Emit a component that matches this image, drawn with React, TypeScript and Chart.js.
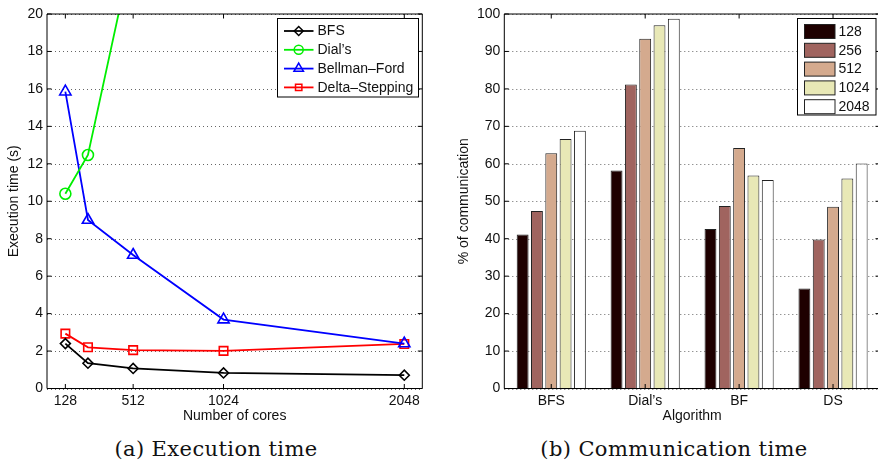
import React, { useEffect, useRef } from "react";
import { Chart, registerables } from "chart.js";

Chart.register(...registerables);

// ---------- Data: (a) Execution time ----------
const cores = [128, 256, 512, 1024, 2048];
const coreTicks = [128, 512, 1024, 2048];
const bfsTime = [2.4, 1.35, 1.07, 0.83, 0.71];
const dialsTime = [10.4, 12.47, 23.6, null, null];
const bellmanTime = [15.85, 9.0, 7.13, 3.68, 2.4];
const deltaTime = [2.93, 2.2, 2.05, 2.01, 2.38];
const lineNames = ["BFS", "Dial\u2019s", "Bellman\u2013Ford", "Delta\u2013Stepping"];

// ---------- Data: (b) Communication time ----------
const algorithms = ["BFS", "Dial\u2019s", "BF", "DS"];
const coreCounts = ["128", "256", "512", "1024", "2048"];
const comm128 = [41.1, 58.2, 42.6, 26.7];
const comm256 = [47.4, 81.2, 48.7, 39.8];
const comm512 = [62.8, 93.4, 64.2, 48.5];
const comm1024 = [66.6, 97.0, 56.9, 56.1];
const comm2048 = [68.8, 98.7, 55.7, 60.1];

const FONT = "Liberation Sans, Arial, Helvetica, sans-serif";
const TXT = "#111";

const lineColors = ["#000000", "#00ee00", "#0000ff", "#ff0000"];
const lineMarkers = ["rectRot", "circle", "triangle", "rect"];
const lineRadii = [5, 5.5, 6.5, 6];
const barColors = ["#1e0000", "#a0645f", "#d4aa8e", "#e8e8b6", "#ffffff"];

function dottedGrid(chart: any) {
  const { ctx, chartArea: a, scales } = chart;
  ctx.save();
  ctx.strokeStyle = "rgba(0,0,0,0.6)";
  ctx.lineWidth = 1;
  ctx.setLineDash([1, 3]);
  ctx.beginPath();
  scales.y.ticks.forEach((t: any) => {
    const py = Math.round(scales.y.getPixelForValue(t.value)) + 0.5;
    ctx.moveTo(a.left, py);
    ctx.lineTo(a.right, py);
  });
  ctx.stroke();
  ctx.restore();
}

function frameAndTicks(chart: any, xTicks: number[] | null) {
  const { ctx, chartArea: a, scales } = chart;
  ctx.save();
  ctx.strokeStyle = "#000";
  ctx.lineWidth = 1;
  const tl = 4.5;
  ctx.beginPath();
  const ys = scales.y.ticks.map((t: any) => scales.y.getPixelForValue(t.value));
  ys.forEach((py: number) => {
    ctx.moveTo(a.left, py);
    ctx.lineTo(a.left + tl, py);
    ctx.moveTo(a.right, py);
    ctx.lineTo(a.right - tl, py);
  });
  const xs = xTicks
    ? xTicks.map((v) => scales.x.getPixelForValue(v))
    : scales.x.ticks.map((_t: any, i: number) => scales.x.getPixelForTick(i));
  xs.forEach((px: number) => {
    ctx.moveTo(px, a.top);
    ctx.lineTo(px, a.top + tl);
    ctx.moveTo(px, a.bottom);
    ctx.lineTo(px, a.bottom - tl);
  });
  ctx.stroke();
  ctx.beginPath();
  ctx.rect(a.left, a.top, a.right - a.left, a.bottom - a.top);
  ctx.stroke();
  ctx.restore();
}

function drawMarker(ctx: CanvasRenderingContext2D, kind: string, x: number, y: number, r: number) {
  ctx.beginPath();
  if (kind === "rectRot") {
    ctx.moveTo(x - r, y);
    ctx.lineTo(x, y - r);
    ctx.lineTo(x + r, y);
    ctx.lineTo(x, y + r);
    ctx.closePath();
  } else if (kind === "circle") {
    ctx.arc(x, y, r, 0, Math.PI * 2);
  } else if (kind === "triangle") {
    const s = r;
    ctx.moveTo(x, y - s);
    ctx.lineTo(x + s * 0.866, y + s * 0.5);
    ctx.lineTo(x - s * 0.866, y + s * 0.5);
    ctx.closePath();
  } else {
    const h = r * Math.SQRT1_2;
    ctx.rect(x - h, y - h, 2 * h, 2 * h);
  }
  ctx.stroke();
}

const lineDecor = {
  id: "lineDecor",
  beforeDatasetsDraw(chart: any) {
    dottedGrid(chart);
  },
  afterDraw(chart: any) {
    frameAndTicks(chart, coreTicks);
    const { ctx } = chart;
    ctx.save();
    const bx = 277.5, by = 18.5, bw = 141, bh = 78.5;
    ctx.fillStyle = "#fff";
    ctx.fillRect(bx, by, bw, bh);
    ctx.strokeStyle = "#000";
    ctx.lineWidth = 1;
    ctx.strokeRect(bx, by, bw, bh);
    ctx.font = `14px ${FONT}`;
    ctx.textBaseline = "middle";
    ctx.textAlign = "left";
    lineNames.forEach((name, i) => {
      const cy = 31 + i * 18.8;
      ctx.strokeStyle = lineColors[i];
      ctx.lineWidth = 1.8;
      ctx.beginPath();
      ctx.moveTo(284, cy);
      ctx.lineTo(313.5, cy);
      ctx.stroke();
      ctx.lineWidth = 1.5;
      drawMarker(ctx, lineMarkers[i], 298.7, cy, i === 2 ? 5.5 : 4.5);
      ctx.fillStyle = TXT;
      ctx.fillText(name, 317.5, cy + 0.5);
    });
    ctx.restore();
  },
};

const barDecor = {
  id: "barDecor",
  beforeDatasetsDraw(chart: any) {
    dottedGrid(chart);
  },
  afterDraw(chart: any) {
    frameAndTicks(chart, null);
    const { ctx } = chart;
    ctx.save();
    const bx = 357.5, by = 18.5, bw = 78.5, bh = 96.5;
    ctx.fillStyle = "#fff";
    ctx.fillRect(bx, by, bw, bh);
    ctx.strokeStyle = "#000";
    ctx.lineWidth = 1;
    ctx.strokeRect(bx, by, bw, bh);
    ctx.font = `14px ${FONT}`;
    ctx.textBaseline = "middle";
    ctx.textAlign = "left";
    coreCounts.forEach((name, i) => {
      const cy = 31.5 + i * 18.8;
      ctx.fillStyle = barColors[i];
      ctx.fillRect(364.5, cy - 7, 30.5, 14);
      ctx.strokeStyle = "#222";
      ctx.strokeRect(364.5, cy - 7, 30.5, 14);
      ctx.fillStyle = TXT;
      ctx.fillText(name, 398.5, cy + 0.5);
    });
    ctx.restore();
  },
};

function LineChart() {
  const ref = useRef<HTMLCanvasElement>(null);
  useEffect(() => {
    const series = [bfsTime, dialsTime, bellmanTime, deltaTime];
    const chart = new Chart(ref.current!, {
      type: "line",
      data: {
        datasets: series.map((vals, i) => ({
          label: lineNames[i],
          data: cores.map((c, j) => ({ x: c, y: vals[j] })),
          borderColor: lineColors[i],
          backgroundColor: "rgba(0,0,0,0)",
          borderWidth: 1.8,
          pointStyle: lineMarkers[i] as any,
          pointRadius: lineRadii[i],
          pointBorderWidth: 1.6,
          pointBorderColor: lineColors[i],
          pointBackgroundColor: "rgba(0,0,0,0)",
          tension: 0,
          spanGaps: false,
        })),
      },
      options: {
        animation: false,
        responsive: false,
        events: [],
        layout: { padding: { left: 0, top: 14, right: 17.7, bottom: 0 } },
        plugins: { legend: { display: false }, tooltip: { enabled: false } },
        scales: {
          x: {
            type: "linear",
            min: 24,
            max: 2150,
            afterBuildTicks: (s: any) => {
              s.ticks = coreTicks.map((v) => ({ value: v }));
            },
            afterFit: (s: any) => {
              s.height = 41.5;
            },
            grid: { display: false, drawTicks: false },
            border: { display: false },
            ticks: {
              color: TXT,
              font: { family: FONT, size: 14 },
              padding: 4,
              maxRotation: 0,
              autoSkip: false,
              callback: (v: any) => String(v),
            },
            title: {
              display: true,
              text: "Number of cores",
              color: TXT,
              font: { family: FONT, size: 14 },
              padding: { top: 0, bottom: 5.6 },
            },
          },
          y: {
            min: 0,
            max: 20,
            afterFit: (s: any) => {
              s.width = 47;
            },
            grid: { display: false, drawTicks: false },
            border: { display: false },
            ticks: {
              stepSize: 2,
              color: TXT,
              font: { family: FONT, size: 14 },
              padding: 4,
            },
            title: {
              display: true,
              text: "Execution time (s)",
              color: TXT,
              font: { family: FONT, size: 14 },
              padding: { top: 5.6, bottom: 0 },
            },
          },
        },
      } as any,
      plugins: [lineDecor],
    });
    return () => chart.destroy();
  }, []);
  return (
    <canvas
      ref={ref}
      width={440}
      height={430}
      style={{ position: "absolute", left: 0, top: 0, width: 440, height: 430 }}
    />
  );
}

function BarChart() {
  const ref = useRef<HTMLCanvasElement>(null);
  useEffect(() => {
    const series = [comm128, comm256, comm512, comm1024, comm2048];
    const chart = new Chart(ref.current!, {
      type: "bar",
      data: {
        labels: algorithms,
        datasets: series.map((vals, i) => ({
          label: coreCounts[i],
          data: vals,
          backgroundColor: barColors[i],
          borderColor: "#222",
          borderWidth: 1,
          categoryPercentage: 0.762,
          barPercentage: 0.83,
        })),
      },
      options: {
        animation: false,
        responsive: false,
        events: [],
        layout: { padding: { left: 0, top: 14, right: 2, bottom: 0 } },
        plugins: { legend: { display: false }, tooltip: { enabled: false } },
        scales: {
          x: {
            afterFit: (s: any) => {
              s.height = 41.5;
            },
            grid: { display: false, drawTicks: false },
            border: { display: false },
            ticks: {
              color: TXT,
              font: { family: FONT, size: 14 },
              padding: 4,
              maxRotation: 0,
            },
            title: {
              display: true,
              text: "Algorithm",
              color: TXT,
              font: { family: FONT, size: 14 },
              padding: { top: 0, bottom: 5.6 },
            },
          },
          y: {
            min: 0,
            max: 100,
            afterFit: (s: any) => {
              s.width = 64.3;
            },
            grid: { display: false, drawTicks: false },
            border: { display: false },
            ticks: {
              stepSize: 10,
              color: TXT,
              font: { family: FONT, size: 14 },
              padding: 4,
            },
            title: {
              display: true,
              text: "% of communication",
              color: TXT,
              font: { family: FONT, size: 14 },
              padding: { top: 15.6, bottom: 0 },
            },
          },
        },
      } as any,
      plugins: [barDecor],
    });
    return () => chart.destroy();
  }, []);
  return (
    <canvas
      ref={ref}
      width={442}
      height={430}
      style={{ position: "absolute", left: 440, top: 0, width: 442, height: 430 }}
    />
  );
}

const captionStyle: React.CSSProperties = {
  position: "absolute",
  top: 435,
  width: 400,
  textAlign: "center",
  fontFamily: "'DejaVu Serif', serif",
  fontSize: 21,
  letterSpacing: "0.4px",
  lineHeight: "28px",
  color: "#111",
  whiteSpace: "nowrap",
};

export default function App() {
  useEffect(() => {
    document.body.style.margin = "0";
    document.body.style.background = "#fff";
  }, []);
  return (
    <div
      style={{
        position: "relative",
        width: 878,
        height: 464,
        overflow: "hidden",
        background: "#fff",
      }}
    >
      <LineChart />
      <BarChart />
      <div style={{ ...captionStyle, left: 216 - 200 }}>(a) Execution time</div>
      <div style={{ ...captionStyle, left: 674 - 200 }}>(b) Communication time</div>
    </div>
  );
}
